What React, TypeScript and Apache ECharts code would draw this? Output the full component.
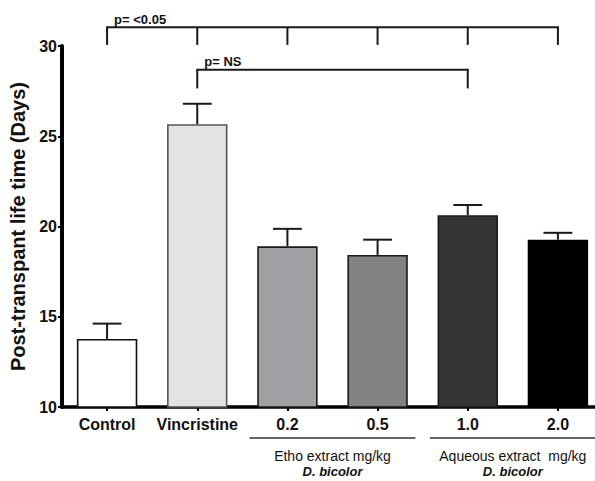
import React, { useEffect, useRef } from 'react';
import * as echarts from 'echarts';

const categories = ['Control', 'Vincristine', '0.2', '0.5', '1.0', '2.0'];
const means = [13.77, 25.67, 18.9, 18.42, 20.63, 19.27];
const sems = [0.85, 1.13, 0.97, 0.85, 0.56, 0.38];
const barColors = ['#ffffff', '#e3e3e3', '#a1a1a5', '#828282', '#333333', '#000000'];
const barBorders = ['#111111', '#555555', '#1a1a1a', '#1a1a1a', '#1a1a1a', '#000000'];
const yMin = 10;
const yMax = 30;
const yStep = 5;
const yTitle = 'Post-transpant life time (Days)';

const bracketLabels = ['p= <0.05', 'p= NS'];
const bracketFrom = [0, 1];
const bracketTo = [5, 4];
const bracketLevel = [31.04, 28.69];
const bracketDrop = [0.98, 1.04];
const bracketTickEvery = [true, false];

const groupLabels = ['Etho extract mg/kg', 'Aqueous extract  mg/kg'];
const groupSubLabels = ['D. bicolor', 'D. bicolor'];
const groupFrom = [2, 4];
const groupTo = [3, 5];

const FONT = '"Liberation Sans", Arial, Helvetica, sans-serif';

export default function App() {
  const ref = useRef<HTMLDivElement>(null);

  useEffect(() => {
    if (!ref.current) return;
    const chart = echarts.init(ref.current, undefined, { renderer: 'svg' });

    const option: any = {
      animation: false,
      backgroundColor: '#ffffff',
      grid: { left: 62, right: -8, top: 46, bottom: 74, containLabel: false, outerBoundsMode: 'none' },
      xAxis: {
        type: 'category',
        data: categories,
        axisLine: { show: true, lineStyle: { color: '#000', width: 3.5 } },
        axisTick: { show: true, alignWithLabel: true, length: 4, lineStyle: { color: '#000', width: 2 } },
        axisLabel: {
          color: '#111',
          fontFamily: FONT,
          fontWeight: 'bold',
          fontSize: 16,
          margin: 9,
          interval: 0,
        },
        splitLine: { show: false },
      },
      yAxis: {
        type: 'value',
        min: yMin,
        max: yMax,
        interval: yStep,
        name: yTitle,
        nameLocation: 'middle',
        nameGap: 24,
        nameTextStyle: { color: '#111', fontFamily: FONT, fontWeight: 'bold', fontSize: 20 },
        axisLine: { show: true, lineStyle: { color: '#000', width: 4 } },
        axisTick: { show: true, length: 4, lineStyle: { color: '#000', width: 2 } },
        axisLabel: { color: '#111', fontFamily: FONT, fontWeight: 'bold', fontSize: 16, margin: 5 },
        splitLine: { show: false },
      },
      series: [
        {
          type: 'bar',
          barWidth: '67%',
          z: 2,
          data: means.map((v, i) => ({
            value: v,
            itemStyle: { color: barColors[i], borderColor: barBorders[i], borderWidth: 1.6 },
          })),
        },
        {
          type: 'custom',
          z: 3,
          clip: false,
          encode: { x: 0, y: 1 },
          data: means.map((v, i) => [i, v, sems[i]]),
          renderItem: (params: any, api: any) => {
            const i = api.value(0);
            const v = api.value(1);
            const e = api.value(2);
            const base = api.coord([i, v]);
            const top = api.coord([i, v + e]);
            const hw = api.size([1, 0])[0] * 0.16;
            const st = { stroke: '#1a1a1a', lineWidth: 2 };
            return {
              type: 'group',
              children: [
                { type: 'line', shape: { x1: base[0], y1: base[1], x2: top[0], y2: top[1] }, style: st },
                { type: 'line', shape: { x1: top[0] - hw, y1: top[1], x2: top[0] + hw, y2: top[1] }, style: st },
              ],
            };
          },
        },
        {
          type: 'custom',
          z: 3,
          clip: false,
          encode: { x: 0, y: 1 },
          data: bracketFrom.map((f, i) => [f, bracketLevel[i]]),
          renderItem: (params: any, api: any) => {
            const i = params.dataIndex;
            const from = bracketFrom[i];
            const to = bracketTo[i];
            const level = bracketLevel[i];
            const y = api.coord([from, level])[1];
            const yb = api.coord([from, level - bracketDrop[i]])[1];
            const xs: number[] = [];
            for (let k = from; k <= to; k++) {
              if (bracketTickEvery[i] || k === from || k === to) xs.push(api.coord([k, level])[0]);
            }
            const st = { stroke: '#1a1a1a', lineWidth: 2 };
            const children: any[] = [
              { type: 'line', shape: { x1: xs[0] - 1, y1: y, x2: xs[xs.length - 1] + 1, y2: y }, style: st },
            ];
            xs.forEach((x) => {
              children.push({ type: 'line', shape: { x1: x, y1: y, x2: x, y2: yb }, style: st });
            });
            children.push({
              type: 'text',
              style: {
                text: bracketLabels[i],
                x: xs[0] + 7,
                y: y - 8,
                font: `bold 13px ${FONT}`,
                fill: '#111',
                align: 'left',
                verticalAlign: 'middle',
              },
            });
            return { type: 'group', children };
          },
        },
        {
          type: 'custom',
          z: 3,
          clip: false,
          encode: { x: 0, y: 1 },
          data: groupFrom.map((f) => [f, yMin]),
          renderItem: (params: any, api: any) => {
            const i = params.dataIndex;
            const a = api.coord([groupFrom[i], yMin]);
            const b = api.coord([groupTo[i], yMin]);
            const band = api.size([1, 0])[0];
            const y = a[1] + 31;
            const mid = (a[0] + b[0]) / 2;
            return {
              type: 'group',
              children: [
                {
                  type: 'line',
                  shape: { x1: a[0] - band * 0.42, y1: y, x2: b[0] + band * 0.42, y2: y },
                  style: { stroke: '#333', lineWidth: 1.5 },
                },
                {
                  type: 'text',
                  style: {
                    text: groupLabels[i],
                    x: mid,
                    y: y + 18,
                    font: `14px ${FONT}`,
                    fill: '#111',
                    align: 'center',
                    verticalAlign: 'middle',
                  },
                },
                {
                  type: 'text',
                  style: {
                    text: groupSubLabels[i],
                    x: mid,
                    y: y + 33,
                    font: `italic bold 13px ${FONT}`,
                    fill: '#111',
                    align: 'center',
                    verticalAlign: 'middle',
                  },
                },
              ],
            };
          },
        },
      ],
    };

    chart.setOption(option);
    return () => chart.dispose();
  }, []);

  return (
    <div
      ref={ref}
      style={{ position: 'fixed', left: 0, top: 0, width: 595, height: 481, background: '#fff' }}
    />
  );
}
